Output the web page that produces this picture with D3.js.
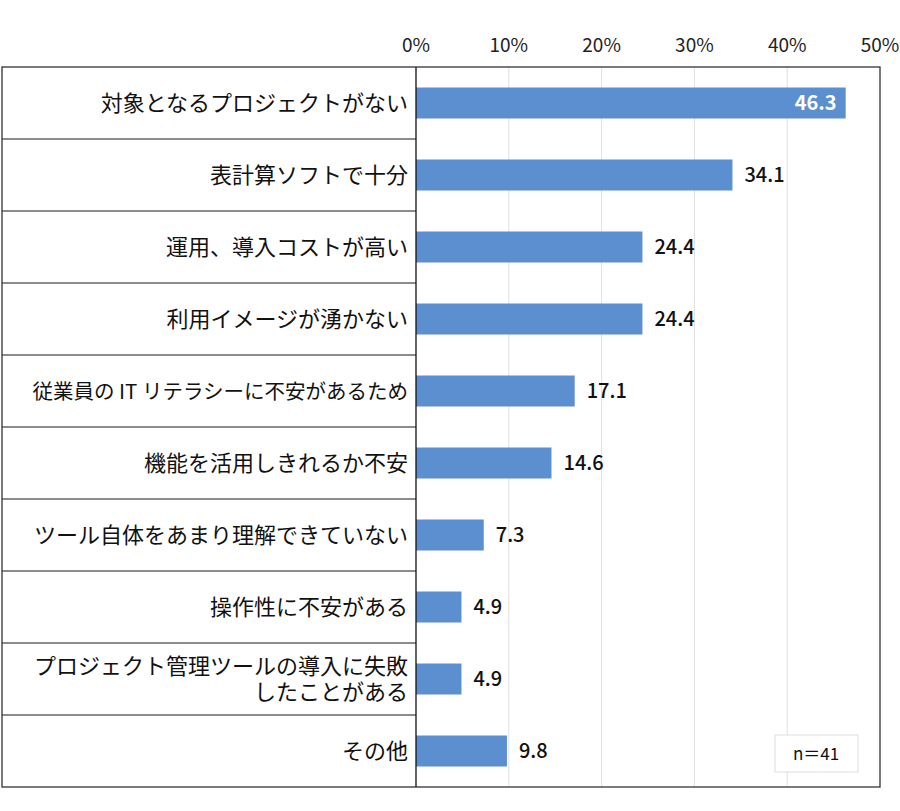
<!DOCTYPE html><html><head><meta charset="utf-8"><script src="https://cdn.jsdelivr.net/npm/d3@7"></script>
<style>body{margin:0;background:#fff}text{font-family:"Noto Sans CJK JP",sans-serif}</style></head><body><svg id="c" width="900" height="811"></svg><script>
const categories=[["対象となるプロジェクトがない"],["表計算ソフトで十分"],["運用、導入コストが高い"],["利用イメージが湧かない"],["従業員の IT リテラシーに不安があるため"],["機能を活用しきれるか不安"],["ツール自体をあまり理解できていない"],["操作性に不安がある"],["プロジェクト管理ツールの導入に失敗","したことがある"],["その他"]];
const values=[46.3,34.1,24.4,24.4,17.1,14.6,7.3,4.9,4.9,9.8];
const ticks=[0,10,20,30,40,50];
const svg=d3.select("#c");
const L=2,X0=416,X1=880,T=67,B=787;
const x=d3.scaleLinear().domain([0,50]).range([X0,X1]);
const y=d3.scaleBand().domain(d3.range(values.length)).range([T,B]);
svg.selectAll(".g").data(ticks.slice(1,-1)).join("line").attr("x1",d=>x(d)).attr("x2",d=>x(d)).attr("y1",T).attr("y2",B).attr("stroke","#e0e0e0");
svg.selectAll(".t").data(ticks).join("text").attr("x",d=>x(d)).attr("y",52).attr("text-anchor","middle").attr("font-size",19).attr("fill","#222").text(d=>d+"%");
svg.selectAll(".sep").data(d3.range(1,values.length)).join("line").attr("x1",L).attr("x2",X0).attr("y1",d=>y(d)).attr("y2",d=>y(d)).attr("stroke","#666").attr("stroke-width",1.5);
svg.selectAll(".bar").data(values).join("rect").attr("x",X0).attr("y",(d,i)=>y(i)+y.bandwidth()/2-15.5).attr("width",d=>x(d)-X0).attr("height",31).attr("fill","#5B8FD0");
svg.selectAll(".v").data(values).join("text").attr("x",(d,i)=>i==0?x(d)-9:x(d)+12).attr("y",(d,i)=>y(i)+y.bandwidth()/2+7).attr("text-anchor",(d,i)=>i==0?"end":"start").attr("font-size",20).attr("font-weight",(d,i)=>i==0?"bold":"500").attr("fill",(d,i)=>i==0?"#fff":"#111").text(d=>d.toFixed(1));
categories.forEach((c,i)=>{const cy=y(i)+y.bandwidth()/2;c.forEach((s,j)=>svg.append("text").attr("x",X0-8).attr("y",cy+8+(j-(c.length-1)/2)*26).attr("text-anchor","end").attr("font-size",c[0].length>18?20.5:22).attr("fill","#111").text(s));});
svg.append("rect").attr("x",L).attr("y",T).attr("width",X1-L).attr("height",B-T).attr("fill","none").attr("stroke","#333").attr("stroke-width",1.3);
svg.append("line").attr("x1",X0).attr("x2",X0).attr("y1",T).attr("y2",B).attr("stroke","#111").attr("stroke-width",1.3);
svg.append("rect").attr("x",775).attr("y",735).attr("width",83).attr("height",37).attr("fill","#fff").attr("stroke","#ddd");
svg.append("text").attr("x",816).attr("y",760).attr("text-anchor","middle").attr("font-size",17).attr("fill","#111").text("n＝41");
</script></body></html>
